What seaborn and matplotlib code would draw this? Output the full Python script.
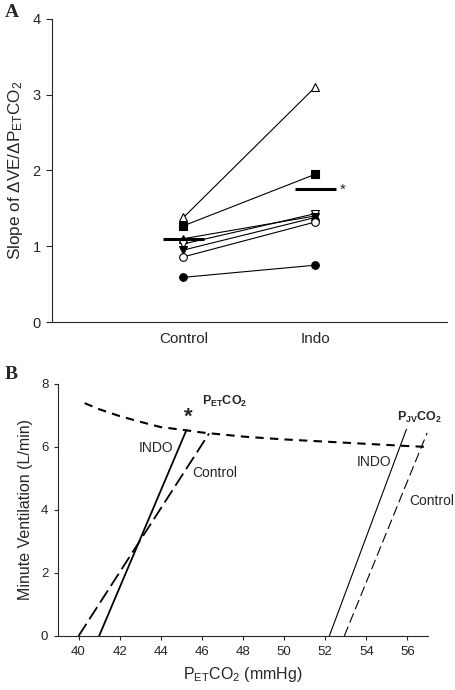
import numpy as np
import pandas as pd
import matplotlib
matplotlib.use("Agg")
import matplotlib.pyplot as plt
import seaborn as sns

# ------------------------
# Data
# ------------------------
conditions = ["Control", "Indo"]
subject_markers = ["^", "s", "^", "v", "v", "o", "o"]
subject_filled = [False, True, True, False, True, False, True]
control_slope = [1.38, 1.27, 1.10, 1.03, 0.95, 0.86, 0.59]
indo_slope = [3.10, 1.95, 1.40, 1.43, 1.38, 1.32, 0.75]
mean_slope = [1.09, 1.76]

# panel B response lines (x = PCO2, y = ventilation)
pet_indo_x = [41.0, 45.25]
pet_indo_y = [0.0, 6.54]
pet_ctrl_x = [40.0, 46.35]
pet_ctrl_y = [0.0, 6.43]
pjv_indo_x = [52.2, 55.95]
pjv_indo_y = [0.0, 6.56]
pjv_ctrl_x = [52.93, 56.96]
pjv_ctrl_y = [0.0, 6.45]
curve_x = [40.3, 41, 42, 43, 44, 45, 46, 48, 50, 52, 54, 56, 57]
curve_y = [7.39, 7.20, 6.98, 6.80, 6.63, 6.55, 6.46, 6.33, 6.24, 6.17, 6.10, 6.03, 6.00]

sns.set_style("ticks")
plt.rcParams['font.family'] = ['Liberation Sans', 'DejaVu Sans']
plt.rcParams['mathtext.fontset'] = 'custom'
plt.rcParams['mathtext.rm'] = 'Liberation Sans'
plt.rcParams['mathtext.it'] = 'Liberation Sans:italic'
plt.rcParams['mathtext.bf'] = 'Liberation Sans:bold'

fig = plt.figure(figsize=(4.56, 6.90), dpi=100)

# ------------------------
# Panel A
# ------------------------
axA = fig.add_axes([0.1134, 0.5333, 0.8667, 0.4392])
for i in range(len(control_slope)):
    fc = 'black' if subject_filled[i] else 'white'
    sns.lineplot(x=conditions, y=[control_slope[i], indo_slope[i]], ax=axA,
                 color='black', linewidth=0.8, marker=subject_markers[i],
                 markersize=5.5, markerfacecolor=fc, markeredgecolor='black',
                 markeredgewidth=0.8, sort=False)

for i, m in enumerate(mean_slope):
    axA.hlines(m, i - 0.155, i + 0.155, color='black', linewidth=2.2, zorder=5)
axA.text(1 + 0.21, mean_slope[1] - 0.02, '*', fontsize=11, ha='center', va='center')

axA.set_xlim(-1, 2)
axA.set_ylim(0, 4)
axA.set_yticks([0, 1, 2, 3, 4])
axA.set_xlabel('')
axA.set_ylabel(r'Slope of $\Delta$VE/$\Delta$P$_{\mathrm{ET}}$CO$_2$', fontsize=12.3, labelpad=5)
axA.tick_params(axis='x', length=0, pad=7, labelsize=11)
axA.tick_params(axis='y', direction='out', length=4, width=0.8, pad=4, labelsize=10.5)
sns.despine(ax=axA)
for s in ['left', 'bottom']:
    axA.spines[s].set_linewidth(0.8)

# ------------------------
# Panel B
# ------------------------
axB = fig.add_axes([0.1272, 0.0783, 0.8114, 0.3652])
sns.lineplot(x=curve_x, y=curve_y, ax=axB, color='black', linewidth=1.5,
             linestyle=(0, (4, 3)), sort=False)
sns.lineplot(x=pet_indo_x, y=pet_indo_y, ax=axB, color='black', linewidth=1.3, sort=False)
sns.lineplot(x=pet_ctrl_x, y=pet_ctrl_y, ax=axB, color='black', linewidth=1.3,
             linestyle=(0, (8, 3)), sort=False)
sns.lineplot(x=pjv_indo_x, y=pjv_indo_y, ax=axB, color='black', linewidth=0.8, sort=False)
sns.lineplot(x=pjv_ctrl_x, y=pjv_ctrl_y, ax=axB, color='black', linewidth=0.8,
             linestyle=(0, (9, 4)), sort=False)

axB.text(44.6, 5.97, 'INDO', fontsize=10, ha='right', va='center')
axB.text(45.55, 5.17, 'Control', fontsize=10, ha='left', va='center')
axB.text(55.2, 5.53, 'INDO', fontsize=10, ha='right', va='center')
axB.text(56.1, 4.29, 'Control', fontsize=10, ha='left', va='center', clip_on=False)
axB.text(45.35, 6.95, '*', fontsize=16, fontweight='bold', ha='center', va='center')
axB.text(46.0, 7.44, r'$\mathbf{P_{ET}CO_2}$', fontsize=9, ha='left', va='center')
axB.text(55.5, 6.94, r'$\mathbf{P_{JV}CO_2}$', fontsize=9, ha='left', va='center')

axB.set_xlim(39, 57)
axB.set_ylim(0, 8)
axB.set_xticks(np.arange(40, 57, 2))
axB.set_yticks([0, 2, 4, 6, 8])
axB.set_xlabel(r'P$_{\mathrm{ET}}$CO$_2$ (mmHg)', fontsize=11.5, labelpad=5)
axB.set_ylabel('Minute Ventilation (L/min)', fontsize=11.5, labelpad=6)
axB.tick_params(direction='out', length=3, width=0.8, labelsize=9.5, pad=4)
sns.despine(ax=axB)
for s in ['left', 'bottom']:
    axB.spines[s].set_linewidth(0.8)

fig.text(5 / 456, 1 - 4 / 690, 'A', family='Liberation Serif', fontweight='bold',
         fontsize=14, va='top', ha='left')
fig.text(5 / 456, 1 - 366 / 690, 'B', family='Liberation Serif', fontweight='bold',
         fontsize=14, va='top', ha='left')

plt.savefig("out.png", dpi=100)
